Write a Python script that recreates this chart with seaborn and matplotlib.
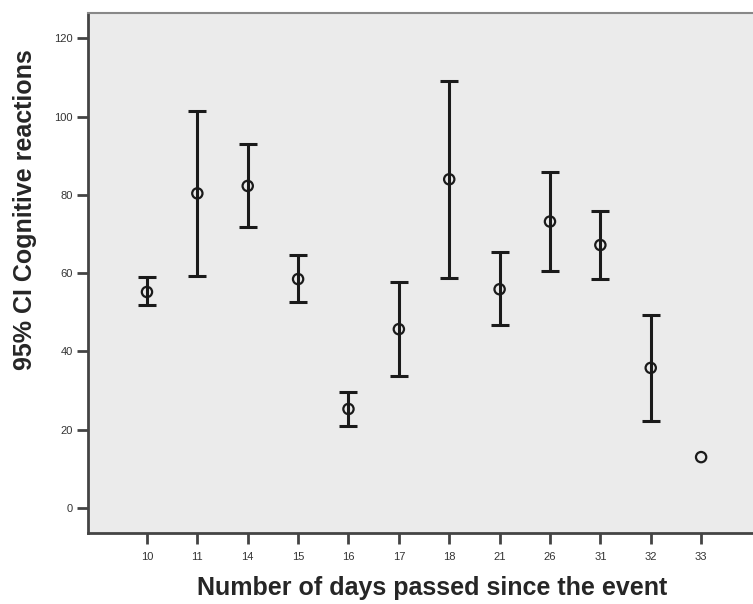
import numpy as np
import matplotlib
matplotlib.use("Agg")
import matplotlib.pyplot as plt
import seaborn as sns

# data
days = ["10", "11", "14", "15", "16", "17", "18", "21", "26", "31", "32", "33"]
means = [55.2, 80.4, 82.3, 58.5, 25.3, 45.7, 84.0, 55.9, 73.2, 67.2, 35.8, 13.0]
lower = [51.9, 59.3, 71.9, 52.6, 21.0, 33.7, 58.9, 46.7, 60.5, 58.4, 22.2, 13.0]
upper = [59.0, 101.4, 92.9, 64.6, 29.7, 57.7, 109.1, 65.3, 85.8, 76.0, 49.4, 13.0]

sns.set_style("ticks")
plt.rcParams['font.family'] = ['Liberation Sans', 'DejaVu Sans']

fig = plt.figure(figsize=(7.53, 6.04), dpi=100)
ax = fig.add_axes([0.1169, 0.1175, 0.8831, 0.861])
ax.set_facecolor("#ebebeb")

pos = np.arange(len(days))
m = np.array(means)
lo = np.array(lower)
hi = np.array(upper)
has_ci = hi > lo  # 33 has only one case, no interval

ax.errorbar(pos[has_ci], m[has_ci],
            yerr=np.vstack([m - lo, hi - m])[:, has_ci],
            fmt="none", ecolor="#1a1a1a", elinewidth=2.2,
            capsize=6.5, capthick=2.2, zorder=2)
sns.scatterplot(x=pos, y=m, ax=ax, marker="o", s=55, facecolor="none",
                edgecolor="#1a1a1a", linewidth=1.6, zorder=3)

ax.set_xticks(pos)
ax.set_xticklabels(days)
ax.set_xlim(-1.17, 12.03)
ax.set_ylim(-6.4, 126.5)
ax.set_yticks([0, 20, 40, 60, 80, 100, 120])

for s in ["left", "bottom"]:
    ax.spines[s].set_color("#444444")
    ax.spines[s].set_linewidth(2)
ax.spines["top"].set_visible(True)
ax.spines["top"].set_color("#888888")
ax.spines["top"].set_linewidth(1.5)
ax.spines["right"].set_visible(False)

ax.tick_params(axis="both", direction="out", length=8, width=2,
               color="#444444", labelsize=8, labelcolor="#333333", pad=3)
ax.tick_params(axis="x", pad=6)
ax.tick_params(top=False, right=False)

ax.set_xlabel("Number of days passed since the event", fontsize=18,
              fontweight="bold")
ax.set_ylabel("95% CI Cognitive reactions", fontsize=18,
              fontweight="bold")
ax.xaxis.set_label_coords(0.518, -0.083)
ax.yaxis.set_label_coords(-0.076, 0.621)

fig.savefig("out.png", dpi=100)
